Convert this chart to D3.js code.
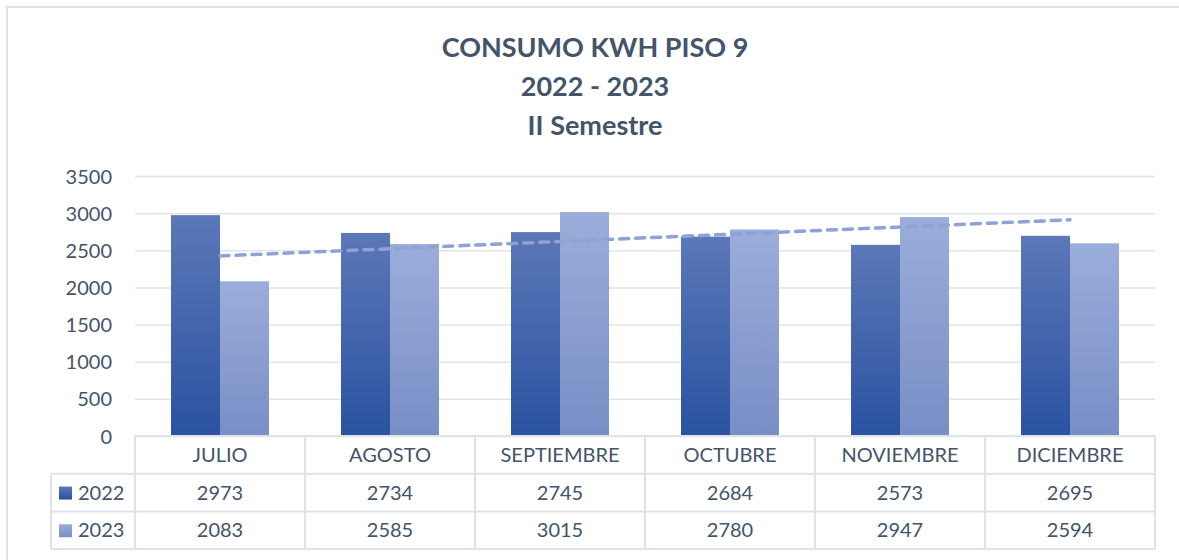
<!DOCTYPE html>
<html>
<head>
<meta charset="utf-8">
<script src="https://cdn.jsdelivr.net/npm/d3@7"></script>
<style>
  body { margin: 0; background: #fff; }
  svg text { font-family: Lato, "Open Sans", sans-serif; fill: #44546a; }
</style>
</head>
<body>
<div id="chart"></div>
<script>
// Chart data
const months = ["JULIO", "AGOSTO", "SEPTIEMBRE", "OCTUBRE", "NOVIEMBRE", "DICIEMBRE"];
const seriesNames = ["2022", "2023"];
const values2022 = [2973, 2734, 2745, 2684, 2573, 2695];
const values2023 = [2083, 2585, 3015, 2780, 2947, 2594];
const yTicks = [0, 500, 1000, 1500, 2000, 2500, 3000, 3500];
const titleLines = ["CONSUMO KWH PISO 9", "2022 - 2023", "II Semestre"];

const width = 1179;
const height = 560;
const plot = { left: 135, right: 1155, top: 176, bottom: 436 };
const rowH = 37.7;
const tableLeft = 51;

const svg = d3.select("#chart").append("svg")
    .attr("width", width)
    .attr("height", height);

// Gradients for the bars
const defs = svg.append("defs");
function gradient(id, top, bottom) {
    const g = defs.append("linearGradient").attr("id", id)
        .attr("x1", 0).attr("y1", 0).attr("x2", 0).attr("y2", 1);
    g.append("stop").attr("offset", "0%").attr("stop-color", top);
    g.append("stop").attr("offset", "100%").attr("stop-color", bottom);
}
gradient("g2022", "#5b78b8", "#2a52a0");
gradient("g2023", "#9badda", "#788ec6");
const fills = ["url(#g2022)", "url(#g2023)"];

// Outer frame (left and top edges visible)
svg.append("path")
    .attr("d", `M7,${height} L7,7 L${width},7`)
    .attr("fill", "none")
    .attr("stroke", "#dde1e8")
    .attr("stroke-width", 2);

// Title
svg.append("g").selectAll("text")
    .data(titleLines)
    .enter().append("text")
    .attr("x", 595)
    .attr("y", (d, i) => 57 + i * 39)
    .attr("text-anchor", "middle")
    .attr("font-size", 27)
    .attr("font-weight", "bold")
    .text(d => d);

// Scales
const x = d3.scaleBand().domain(months).range([plot.left, plot.right]);
const x1 = d3.scaleBand().domain(seriesNames)
    .range([0, x.bandwidth()]).paddingOuter(0.735).paddingInner(0);
const y = d3.scaleLinear().domain([0, 3500]).range([plot.bottom, plot.top]);

// Gridlines
svg.append("g")
    .attr("transform", `translate(${plot.left},0)`)
    .call(d3.axisLeft(y).tickValues(yTicks).tickSize(-(plot.right - plot.left)).tickFormat(""))
    .call(g => g.select(".domain").remove())
    .call(g => g.selectAll("line").attr("stroke", "#e1e4ea").attr("stroke-width", 1.5));

// Y axis labels
svg.append("g")
    .attr("transform", `translate(${plot.left - 23},0)`)
    .call(d3.axisLeft(y).tickValues(yTicks).tickSize(0).tickPadding(0).tickFormat(d3.format("d")))
    .call(g => g.select(".domain").remove())
    .call(g => g.selectAll("text")
        .attr("font-size", 20)
        .attr("dy", "0.35em")
        .style("font-family", "Lato, sans-serif")
        .style("fill", "#44546a"));

// Bars
const series = [values2022, values2023];
const barGroups = svg.append("g").selectAll("g")
    .data(seriesNames)
    .enter().append("g")
    .attr("fill", (d, i) => fills[i]);

barGroups.selectAll("rect")
    .data((s, si) => months.map((m, mi) => ({ month: m, series: s, value: series[si][mi] })))
    .enter().append("rect")
    .attr("x", d => x(d.month) + x1(d.series))
    .attr("y", d => y(d.value))
    .attr("width", x1.bandwidth())
    .attr("height", d => y(0) - y(d.value));

// Linear trend line of the 2023 series
const n = values2023.length;
const xs = d3.range(1, n + 1);
const mx = d3.mean(xs);
const my = d3.mean(values2023);
const slope = d3.sum(xs, (v, i) => (v - mx) * (values2023[i] - my)) / d3.sum(xs, v => (v - mx) * (v - mx));
const intercept = my - slope * mx;
const trend = xs.map((v, i) => ({ month: months[i], value: intercept + slope * v }));

svg.append("path")
    .datum(trend)
    .attr("fill", "none")
    .attr("stroke", "#8ea2d5")
    .attr("stroke-width", 3.5)
    .attr("stroke-dasharray", "9,7")
    .attr("stroke-linecap", "round")
    .attr("d", d3.line()
        .x(d => x(d.month) + x.bandwidth() / 2)
        .y(d => y(d.value)));

// Data table below the plot
const table = svg.append("g");
const lineColor = "#dfe2e8";
const tableBottom = plot.bottom + 3 * rowH;

// horizontal lines
table.append("line")
    .attr("x1", plot.left).attr("x2", plot.right)
    .attr("y1", plot.bottom).attr("y2", plot.bottom)
    .attr("stroke", lineColor).attr("stroke-width", 2);
[1, 2, 3].forEach(r => {
    table.append("line")
        .attr("x1", tableLeft).attr("x2", plot.right)
        .attr("y1", plot.bottom + r * rowH).attr("y2", plot.bottom + r * rowH)
        .attr("stroke", lineColor).attr("stroke-width", 2);
});
// vertical lines
table.append("line")
    .attr("x1", tableLeft).attr("x2", tableLeft)
    .attr("y1", plot.bottom + rowH).attr("y2", tableBottom)
    .attr("stroke", lineColor).attr("stroke-width", 2);
months.forEach(m => {
    table.append("line")
        .attr("x1", x(m)).attr("x2", x(m))
        .attr("y1", plot.bottom).attr("y2", tableBottom)
        .attr("stroke", lineColor).attr("stroke-width", 2);
});
table.append("line")
    .attr("x1", plot.right).attr("x2", plot.right)
    .attr("y1", plot.bottom).attr("y2", tableBottom)
    .attr("stroke", lineColor).attr("stroke-width", 2);

// header (month names)
table.selectAll(".month")
    .data(months)
    .enter().append("text")
    .attr("class", "month")
    .attr("x", d => x(d) + x.bandwidth() / 2)
    .attr("y", plot.bottom + rowH / 2)
    .attr("dy", "0.36em")
    .attr("text-anchor", "middle")
    .attr("font-size", 20)
    .text(d => d);

// series rows
series.forEach((vals, si) => {
    const cy = plot.bottom + rowH * (si + 1.5);
    table.append("rect")
        .attr("x", 59).attr("y", cy - 6)
        .attr("width", 13).attr("height", 13)
        .attr("fill", fills[si]);
    table.append("text")
        .attr("x", 78).attr("y", cy)
        .attr("dy", "0.36em")
        .attr("font-size", 20)
        .text(seriesNames[si]);
    table.selectAll(".v" + si)
        .data(vals)
        .enter().append("text")
        .attr("x", (d, i) => x(months[i]) + x.bandwidth() / 2)
        .attr("y", cy)
        .attr("dy", "0.36em")
        .attr("text-anchor", "middle")
        .attr("font-size", 20)
        .text(d => d);
});
</script>
</body>
</html>
